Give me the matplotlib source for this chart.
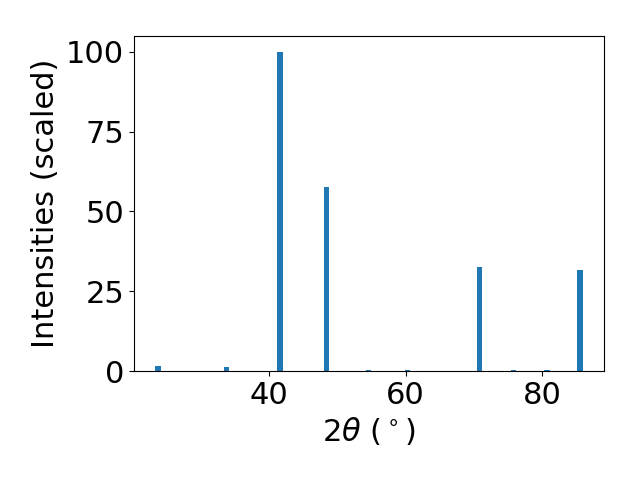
import matplotlib
matplotlib.use("Agg")
import matplotlib.pyplot as plt

two_theta = [23.64, 33.68, 41.57, 48.38, 54.53, 60.24, 70.82, 75.85, 80.76, 85.60]
intensity = [1.5, 1.2, 100.0, 57.8, 0.3, 0.3, 32.6, 0.3, 0.3, 31.7]

plt.rcParams['font.size'] = 22
fig, ax = plt.subplots(figsize=(6.4, 4.8), dpi=100)
ax.bar(two_theta, intensity, width=0.8, color='#1f77b4')
ax.set_xlabel(r'$2\theta$ ($^\circ$)')
ax.set_ylabel('Intensities (scaled)')
ax.set_yticks([0, 25, 50, 75, 100])
fig.subplots_adjust(left=0.209, right=0.944, bottom=0.227, top=0.925)
fig.savefig('out.png')
